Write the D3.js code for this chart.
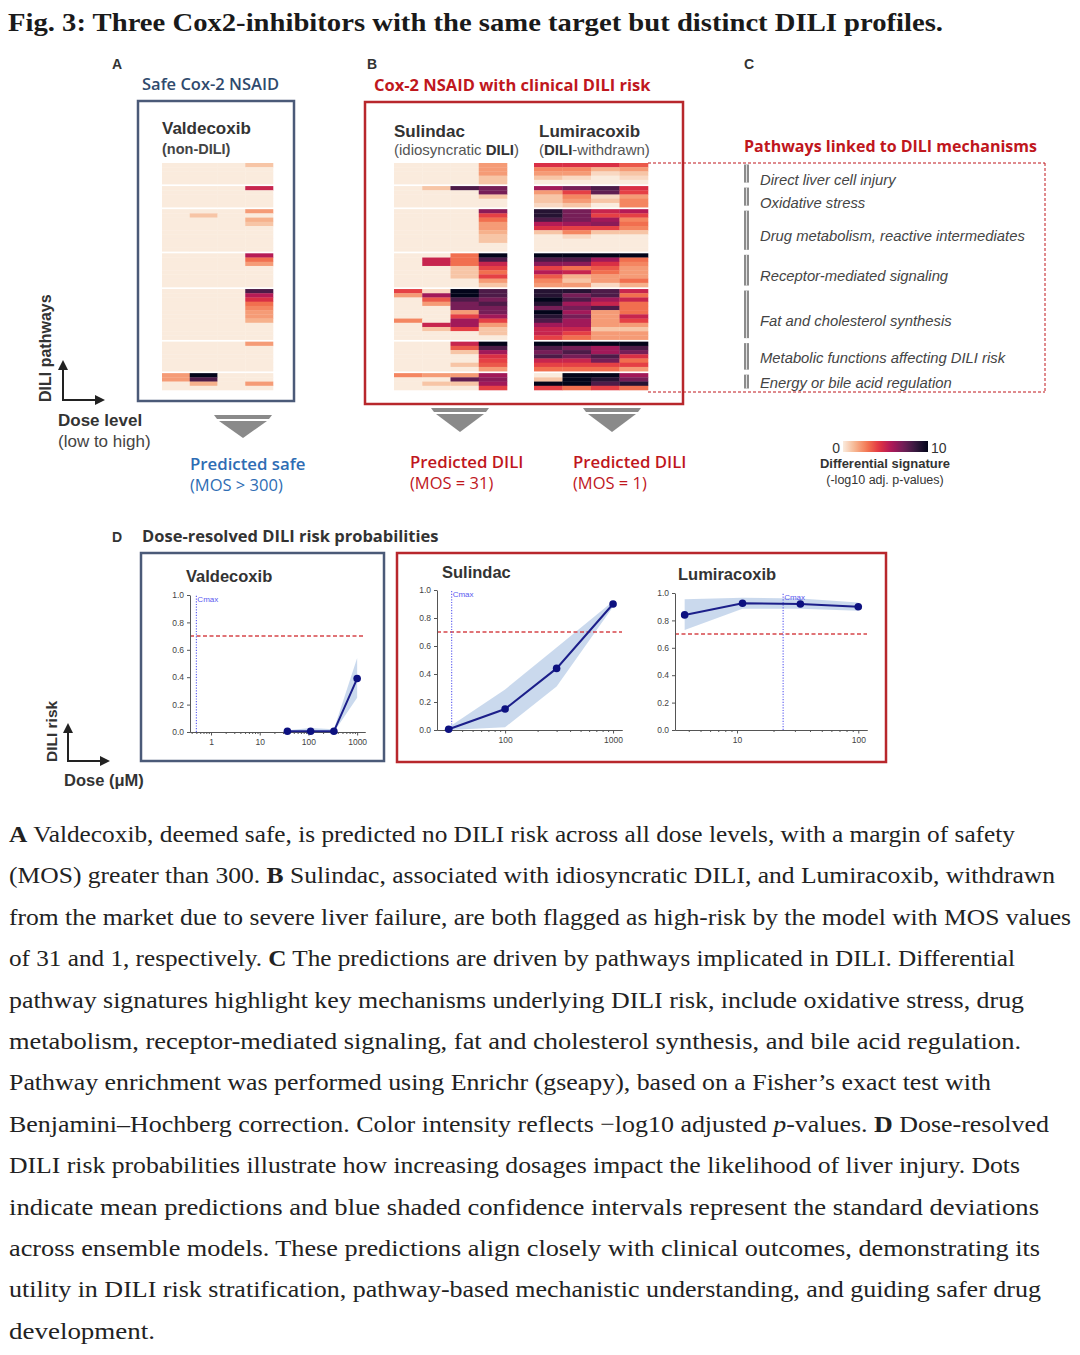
<!DOCTYPE html>
<html>
<head>
<meta charset="utf-8">
<script src="https://cdn.jsdelivr.net/npm/d3@7"></script>
<style>
body{margin:0;background:#fff}
svg text{font-family:"Liberation Sans",Arial,sans-serif}
svg text.serif{font-family:"Liberation Serif","Times New Roman",serif}
</style>
</head>
<body>
<svg id="fig" width="1080" height="1355"></svg>
<script>
// ---- heatmap data: -log10 adj. p, rows grouped by pathway, 4 dose levels (low->high)
var doseLevels = ["low", "mid-low", "mid-high", "high"];
var pathwayGroups = ["Direct liver cell injury", "Oxidative stress", "Drug metabolism, reactive intermediates",
  "Receptor-mediated signaling", "Fat and cholesterol synthesis", "Metabolic functions affecting DILI risk",
  "Energy or bile acid regulation"];

var valdecoxibSig = [
  [[0,0,0,1],[0,0,0,0],[0,0,0,0],[0,0,0,0],[0,0,0,0]],
  [[0,0,0,5],[0,0,0,0],[0,0,0,0],[0,0,0,0],[0,0,0,0]],
  [[0,0,0,2],[0,1,0,0],[0,0,0,1.5],[0,0,0,1],[0,0,0,0],[0,0,0,0],[0,0,0,0],[0,0,0,0],[0,0,0,0],[0,0,0,0]],
  [[0,0,0,5.5],[0,0,0,3],[0,0,0,2],[0,0,0,0],[0,0,0,0],[0,0,0,0],[0,0,0,0],[0,0,0,0]],
  [[0,0,0,8],[0,0,0,5.5],[0,0,0,4.5],[0,0,0,3],[0,0,0,2.5],[0,0,0,2],[0,0,0,2],[0,0,0,1.5],[0,0,0,0],[0,0,0,0],[0,0,0,0],[0,0,0,0]],
  [[0,0,0,2],[0,0,0,0],[0,0,0,0],[0,0,0,0],[0,0,0,0],[0,0,0,0],[0,0,0,0]],
  [[2,10,0,0],[2,8,0,0],[0,1.5,0,2],[0,0,0,0]]
];
var sulindacSig = [
  [[0,0,0,2],[0,0,0,2],[0,0,0,2],[0,0,0,1],[0,0,0,1]],
  [[0,1,8,7],[0,0,0,7],[0,0,0,1],[0,0,0,0],[0,0,0,0]],
  [[0,0,0,6.5],[0,0,0,4],[0,0,0,3],[0,0,0,2],[0,0,0,2],[0,0,0,1.5],[0,0,0,1],[0,0,0,1],[0,0,0,0],[0,0,0,0]],
  [[0,0,3,10],[0,5,3,8],[0,5,3,5],[0,0,1,4],[0,0,1,3],[0,0,1,4],[0,0,0,2],[0,0,0,1]],
  [[4,0.5,10,8],[2,6,10,8],[0,3.5,8,7],[0,2,7,8],[0,0,7,7],[0,0,2,7],[0,0,4,6],[2.5,0,6,4],[0,5,6,2],[0,1,4,1],[0,0,0,1],[0,0,0,0]],
  [[0,0,5,10],[0,0,3.5,8],[0,0,1,6],[0,0,0,4.5],[0,0,0,4],[0,0,1,3.5],[0,0,0,2]],
  [[2.5,2,2,6],[0,0,7.5,6.5],[0,1,1,6],[0,0,0,4]]
];
var lumiracoxibSig = [
  [[4.5,4.5,4.5,3.5],[2.5,2.5,1.5,2],[2,2,0.5,1],[1,0.5,0,0.5],[0,0,0,0]],
  [[6,7,8,4.5],[2,4,7.5,4],[1,2.5,0.5,2],[1,2,1,2.5],[0.5,1,0,2.5]],
  [[9,7,5,5.5],[9,7,4,4],[8,7,6,2.5],[5.5,6,6.5,3],[4.5,4,4,2.5],[1,2.5,1,1],[0,0.5,0,0],[0,0,0,0],[0,0,0,0],[0,0,0,0]],
  [[10,10,10,10],[8,8,6,3],[6.5,6.5,4.5,2.5],[4,3,3.5,2],[5.5,5,3,2],[3.5,1.5,2,2],[2.5,1,2,3],[2,2,0.5,1.5]],
  [[9,9,8,5],[9,7,8,3],[10,8,6,5],[9,6,5,3],[7,7,8,3],[10,6,2,3],[9,7,2,5],[8,6,2,4],[6,6,2,2],[5,5,1,1],[5,4,2,2],[4,3,2,2]],
  [[10,10,10,10],[8,7,6,8],[7,8,6,7],[8,7,8,4.5],[5,5,7,3],[4,4,4,4],[3,3,3,2]],
  [[0,10,10,6],[1,10,9,7],[10,10,8,9],[4,3,4,3]]
];
var colorStops = ["#faebdd", "#f6b48f", "#f37651", "#e13342", "#ad1759", "#701f57", "#35193e", "#03051a"];
var colorTicks = [0, 10];

// ---- dose-resolved DILI risk (mean, +/- sd band)
var valdecoxibDose = [37, 111, 333, 1000];
var valdecoxibRisk = [0.005, 0.005, 0.005, 0.39];
var valdecoxibLow = [0, 0, 0, 0.25];
var valdecoxibHigh = [0.012, 0.03, 0.02, 0.54];
var valdecoxibCmax = 0.5;

var sulindacDose = [30, 100, 300, 1000];
var sulindacRisk = [0.005, 0.15, 0.44, 0.90];
var sulindacLow = [0, 0.02, 0.31, 0.88];
var sulindacHigh = [0.02, 0.29, 0.59, 0.92];
var sulindacCmax = 32;

var lumiracoxibDose = [3.7, 11.1, 33.3, 100];
var lumiracoxibRisk = [0.84, 0.925, 0.92, 0.90];
var lumiracoxibLow = [0.73, 0.885, 0.885, 0.87];
var lumiracoxibHigh = [0.955, 0.965, 0.96, 0.93];
var lumiracoxibCmax = 24;

var riskTicks = [0, 0.2, 0.4, 0.6, 0.8, 1.0];
var riskThreshold = 0.7;

var captionLines = [
  [["A","b"],[" Valdecoxib, deemed safe, is predicted no DILI risk across all dose levels, with a margin of safety"]],
  [["(MOS) greater than 300. "],["B","b"],[" Sulindac, associated with idiosyncratic DILI, and Lumiracoxib, withdrawn"]],
  [["from the market due to severe liver failure, are both flagged as high-risk by the model with MOS values"]],
  [["of 31 and 1, respectively. "],["C","b"],[" The predictions are driven by pathways implicated in DILI. Differential"]],
  [["pathway signatures highlight key mechanisms underlying DILI risk, include oxidative stress, drug"]],
  [["metabolism, receptor-mediated signaling, fat and cholesterol synthesis, and bile acid regulation."]],
  [["Pathway enrichment was performed using Enrichr (gseapy), based on a Fisher\u2019s exact test with"]],
  [["Benjamini\u2013Hochberg correction. Color intensity reflects \u2212log10 adjusted "],["p","i"],["-values. "],["D","b"],[" Dose-resolved"]],
  [["DILI risk probabilities illustrate how increasing dosages impact the likelihood of liver injury. Dots"]],
  [["indicate mean predictions and blue shaded confidence intervals represent the standard deviations"]],
  [["across ensemble models. These predictions align closely with clinical outcomes, demonstrating its"]],
  [["utility in DILI risk stratification, pathway-based mechanistic understanding, and guiding safer drug"]],
  [["development."]]
];
var captionEnds = [1015, 1055, 1071, 1015, 1024, 1021, 991, 1049, 1020, 1039, 1040, 1041, 155];

var svg = d3.select("#fig");
var color = d3.scaleSequential(d3.piecewise(d3.interpolateRgb, colorStops)).domain([0, 10]);
var navy = "#4b5a78", red = "#b8272c";

// title
svg.append("text").attr("class", "serif").attr("x", 8).attr("y", 31)
  .attr("textLength", 935).attr("lengthAdjust", "spacingAndGlyphs")
  .style("font-weight", "bold").style("font-size", "26px").style("fill", "#1a1a1a")
  .text("Fig. 3: Three Cox2-inhibitors with the same target but distinct DILI profiles.");

function label(x, y, txt, size, opts) {
  opts = opts || {};
  var t = svg.append("text").attr("x", x).attr("y", y).text(txt)
    .style("font-size", size + "px").style("fill", opts.fill || "#333")
    .style("font-weight", opts.weight || "normal");
  if (opts.family) t.style("font-family", opts.family);
  if (opts.italic) t.style("font-style", "italic");
  if (opts.anchor) t.attr("text-anchor", opts.anchor);
  return t;
}

// panel letters and headers
label(112, 69, "A", 14, {weight: "bold"});
label(367, 69, "B", 14, {weight: "bold"});
label(744, 69, "C", 14, {weight: "bold"});
label(142, 90, "Safe Cox-2 NSAID", 16.5, {fill: "#2f4a6d", weight: 600, family: "'Open Sans'"});
label(374, 91, "Cox-2 NSAID with clinical DILI risk", 16.5, {fill: "#c0171d", weight: "bold", family: "'Open Sans'"});

// panel boxes
svg.append("rect").attr("x", 138).attr("y", 101).attr("width", 156).attr("height", 300)
  .attr("fill", "none").attr("stroke", navy).attr("stroke-width", 2.5);
svg.append("rect").attr("x", 365).attr("y", 102).attr("width", 318).attr("height", 302)
  .attr("fill", "none").attr("stroke", red).attr("stroke-width", 2.5);

// heatmap headers
label(162, 134, "Valdecoxib", 17, {weight: "bold"});
label(162, 154, "(non-DILI)", 14.5, {weight: "bold", fill: "#444"});
label(394, 137, "Sulindac", 17, {weight: "bold"});
var t1 = label(394, 155, "(idiosyncratic ", 15, {fill: "#555"});
t1.append("tspan").style("font-weight", "bold").style("fill", "#333").text("DILI");
t1.append("tspan").text(")");
label(539, 137, "Lumiracoxib", 17, {weight: "bold"});
var t2 = label(539, 155, "(", 15, {fill: "#555"});
t2.append("tspan").style("font-weight", "bold").style("fill", "#333").text("DILI");
t2.append("tspan").text("-withdrawn)");

// ---- heatmaps
var hmTop = 163, hmBottom = 390, groupGap = 2;
var nRows = d3.sum(valdecoxibSig, function(g) { return g.length; });
var yRow = d3.scaleLinear().domain([0, nRows]).range([hmTop, hmBottom - groupGap * (pathwayGroups.length - 1)]);

var groupExtent = [];
(function() {
  var r = 0;
  valdecoxibSig.forEach(function(g, gi) {
    groupExtent.push([yRow(r) + gi * groupGap, yRow(r + g.length) + gi * groupGap]);
    r += g.length;
  });
})();

function drawHeatmap(sig, x0, x1) {
  var x = d3.scaleBand().domain(doseLevels).range([x0, x1]);
  var cells = [], r = 0;
  sig.forEach(function(g, gi) {
    g.forEach(function(row) {
      row.forEach(function(v, ci) { cells.push({r: r, g: gi, c: doseLevels[ci], v: v}); });
      r++;
    });
  });
  svg.append("g").selectAll("rect").data(cells).enter().append("rect")
    .attr("x", function(d) { return x(d.c); })
    .attr("y", function(d) { return yRow(d.r) + d.g * groupGap; })
    .attr("width", x.bandwidth() + 0.3)
    .attr("height", yRow(1) - yRow(0) + 0.3)
    .attr("fill", function(d) { return color(d.v); });
}
drawHeatmap(valdecoxibSig, 162, 273);
drawHeatmap(sulindacSig, 394, 507);
drawHeatmap(lumiracoxibSig, 534, 648);

// ---- panel C: pathway legend
label(744, 152, "Pathways linked to DILI mechanisms", 16, {fill: "#c0171d", weight: "bold", family: "'Open Sans'"});
var dash = svg.append("g").attr("fill", "none").attr("stroke", "#c0171d").attr("stroke-width", 1).attr("stroke-dasharray", "3,2");
dash.append("line").attr("x1", 648).attr("x2", 1045).attr("y1", hmTop).attr("y2", hmTop);
dash.append("line").attr("x1", 648).attr("x2", 1045).attr("y1", hmBottom + 2).attr("y2", hmBottom + 2);
dash.append("line").attr("x1", 1045).attr("x2", 1045).attr("y1", hmTop).attr("y2", hmBottom + 2);

var lg = svg.append("g").selectAll("g").data(pathwayGroups).enter().append("g");
lg.append("rect").attr("x", 744).attr("width", 5)
  .attr("y", function(d, i) { return groupExtent[i][0] + 1.5; })
  .attr("height", function(d, i) { return groupExtent[i][1] - groupExtent[i][0] - 3; })
  .attr("fill", "#8c8c8c");
lg.append("rect").attr("x", 746).attr("width", 1)
  .attr("y", function(d, i) { return groupExtent[i][0] + 1.5; })
  .attr("height", function(d, i) { return groupExtent[i][1] - groupExtent[i][0] - 3; })
  .attr("fill", "#e0e0e0");
lg.append("text").attr("x", 760)
  .attr("y", function(d, i) { return (groupExtent[i][0] + groupExtent[i][1]) / 2 + (i < 5 ? 6 : 1); })
  .attr("dy", "0.35em")
  .style("font-size", "14.8px").style("font-style", "italic").style("fill", "#444")
  .text(function(d) { return d; });

// colour bar
var defs = svg.append("defs");
var grad = defs.append("linearGradient").attr("id", "cbar");
d3.range(0, 10.01, 0.5).forEach(function(v) {
  grad.append("stop").attr("offset", (v / 10 * 100) + "%").attr("stop-color", color(v));
});
var cbx = d3.scaleLinear().domain([0, 10]).range([843, 928]);
svg.append("rect").attr("x", cbx(0)).attr("y", 441).attr("width", cbx(10) - cbx(0)).attr("height", 11).attr("fill", "url(#cbar)");
label(cbx(colorTicks[0]) - 3, 453, colorTicks[0], 14, {anchor: "end"});
label(cbx(colorTicks[1]) + 3, 453, colorTicks[1], 14);
label(885, 468, "Differential signature", 13, {anchor: "middle", weight: "bold"});
label(885, 484, "(-log10 adj. p-values)", 12.5, {anchor: "middle"});

// axis hint arrows
defs.append("marker").attr("id", "arr").attr("viewBox", "0 0 10 10").attr("refX", 8).attr("refY", 5)
  .attr("markerWidth", 5).attr("markerHeight", 5).attr("orient", "auto")
  .append("path").attr("d", "M0,0L10,5L0,10z").attr("fill", "#222");
function cornerArrow(cx, cy, up, right) {
  svg.append("line").attr("x1", cx).attr("y1", cy).attr("x2", cx).attr("y2", cy - up)
    .attr("stroke", "#222").attr("stroke-width", 2).attr("marker-end", "url(#arr)");
  svg.append("line").attr("x1", cx - 1).attr("y1", cy).attr("x2", cx + right).attr("y2", cy)
    .attr("stroke", "#222").attr("stroke-width", 2).attr("marker-end", "url(#arr)");
}
cornerArrow(63, 400, 38, 40);
svg.append("text").attr("transform", "translate(51,402) rotate(-90)")
  .style("font-size", "16px").style("font-weight", "bold").style("fill", "#333").text("DILI pathways");
label(58, 426, "Dose level", 17, {weight: "bold"});
label(58, 447, "(low to high)", 17, {fill: "#444"});

// grey chevrons
function chevron(cx, top, w, h) {
  svg.append("path").attr("fill", "#8a8a8a")
    .attr("d", "M" + (cx - w / 2) + "," + top + "H" + (cx + w / 2) + "L" + (cx + w / 2 - 3) + "," + (top + 4) + "H" + (cx - w / 2 + 3) + "Z");
  svg.append("path").attr("fill", "#8a8a8a")
    .attr("d", "M" + (cx - w / 2 + 5) + "," + (top + 6) + "H" + (cx + w / 2 - 5) + "L" + cx + "," + (top + h) + "Z");
}
chevron(243, 415, 58, 23);
chevron(460, 408, 58, 24);
chevron(612, 408, 58, 24);

label(190, 470, "Predicted safe", 16.8, {fill: "#2e6db4", weight: 600, family: "'Open Sans'"});
label(190, 491, "(MOS > 300)", 16.5, {fill: "#2e6db4", family: "'Open Sans'"});
label(410, 468, "Predicted DILI", 16.8, {fill: "#c0171d", weight: 600, family: "'Open Sans'"});
label(410, 489, "(MOS = 31)", 16.5, {fill: "#c0171d", family: "'Open Sans'"});
label(573, 468, "Predicted DILI", 16.8, {fill: "#c0171d", weight: 600, family: "'Open Sans'"});
label(573, 489, "(MOS = 1)", 16.5, {fill: "#c0171d", family: "'Open Sans'"});

// ---- panel D
label(112, 542, "D", 14, {weight: "bold"});
label(142, 542, "Dose-resolved DILI risk probabilities", 16.5, {weight: "bold", family: "'Open Sans'"});
svg.append("rect").attr("x", 141).attr("y", 553).attr("width", 243).attr("height", 208)
  .attr("fill", "none").attr("stroke", navy).attr("stroke-width", 2.5);
svg.append("rect").attr("x", 397).attr("y", 553).attr("width", 489).attr("height", 209)
  .attr("fill", "none").attr("stroke", red).attr("stroke-width", 2.5);

cornerArrow(68, 761, 36, 40);
svg.append("text").attr("transform", "translate(57,762) rotate(-90)")
  .style("font-size", "15.5px").style("font-weight", "bold").style("fill", "#333").text("DILI risk");
label(64, 786, "Dose (\u03bcM)", 16.5, {weight: "bold"});

function drawRisk(cfg) {
  var x = d3.scaleLog().domain(cfg.xDomain).range(cfg.xRange);
  var y = d3.scaleLinear().domain([0, 1]).range(cfg.yRange);
  var g = svg.append("g");
  var idx = d3.range(cfg.dose.length);

  label(cfg.titleX, cfg.titleY, cfg.title, 16.5, {weight: "bold"});

  g.append("path").datum(idx).attr("fill", "#c4d5eb").attr("opacity", 0.9)
    .attr("d", d3.area().x(function(i) { return x(cfg.dose[i]); })
      .y0(function(i) { return y(cfg.low[i]); }).y1(function(i) { return y(cfg.high[i]); }));

  // threshold and Cmax
  g.append("line").attr("x1", cfg.xRange[0]).attr("x2", cfg.xRange[1])
    .attr("y1", y(riskThreshold)).attr("y2", y(riskThreshold))
    .attr("stroke", "#d6454a").attr("stroke-width", 1.5).attr("stroke-dasharray", "4,2.5");
  g.append("line").attr("x1", x(cfg.cmax)).attr("x2", x(cfg.cmax)).attr("y1", y(0)).attr("y2", y(1))
    .attr("stroke", "#5a5af0").attr("stroke-width", 1.1).attr("stroke-dasharray", "1.2,1.5");
  g.append("text").attr("x", x(cfg.cmax) + 1).attr("y", y(1) + 7).text("Cmax")
    .style("font-size", "8px").style("fill", "#5a5af0");

  // axes
  var ya = g.append("g").attr("transform", "translate(" + cfg.xRange[0] + ",0)")
    .call(d3.axisLeft(y).tickValues(riskTicks).tickFormat(d3.format(".1f")).tickSize(3).tickSizeOuter(0));
  var minor = x.ticks().filter(function(v) { return cfg.xTicks.indexOf(v) < 0; });
  var xm = g.append("g").attr("transform", "translate(0," + y(0) + ")")
    .call(d3.axisBottom(x).tickValues(minor).tickFormat("").tickSize(2).tickSizeOuter(0));
  var xa = g.append("g").attr("transform", "translate(0," + y(0) + ")")
    .call(d3.axisBottom(x).tickValues(cfg.xTicks).tickFormat(d3.format("d")).tickSize(3.5).tickSizeOuter(0));
  [ya, xm, xa].forEach(function(a) {
    a.selectAll("path,line").attr("stroke", "#555");
    a.selectAll("text").style("font-size", "8.5px").style("fill", "#444");
  });

  g.append("path").datum(idx).attr("fill", "none").attr("stroke", "#1c1f8a").attr("stroke-width", 2)
    .attr("d", d3.line().x(function(i) { return x(cfg.dose[i]); }).y(function(i) { return y(cfg.mean[i]); }));
  g.selectAll("circle").data(idx).enter().append("circle")
    .attr("cx", function(i) { return x(cfg.dose[i]); })
    .attr("cy", function(i) { return y(cfg.mean[i]); })
    .attr("r", 3.8).attr("fill", "#0d1180");
}

drawRisk({title: "Valdecoxib", titleX: 186, titleY: 582, xDomain: [0.37, 1450], xRange: [190, 365], yRange: [732, 595],
  xTicks: [1, 10, 100, 1000], dose: valdecoxibDose, mean: valdecoxibRisk, low: valdecoxibLow, high: valdecoxibHigh, cmax: valdecoxibCmax});
drawRisk({title: "Sulindac", titleX: 442, titleY: 578, xDomain: [23.4, 1210], xRange: [437, 622], yRange: [730, 590],
  xTicks: [100, 1000], dose: sulindacDose, mean: sulindacRisk, low: sulindacLow, high: sulindacHigh, cmax: sulindacCmax});
drawRisk({title: "Lumiracoxib", titleX: 678, titleY: 580, xDomain: [3.08, 118], xRange: [675, 867], yRange: [730, 593],
  xTicks: [10, 100], dose: lumiracoxibDose, mean: lumiracoxibRisk, low: lumiracoxibLow, high: lumiracoxibHigh, cmax: lumiracoxibCmax});

// ---- caption
var cap = svg.append("g");
captionLines.forEach(function(segs, i) {
  var t = cap.append("text").attr("class", "serif").attr("x", 9).attr("y", 842 + i * 41.4)
    .style("font-size", "24px").style("fill", "#222")
    .attr("textLength", captionEnds[i] - 9).attr("lengthAdjust", "spacingAndGlyphs");
  segs.forEach(function(s) {
    var sp = t.append("tspan").text(s[0]);
    if (s[1] === "b") sp.style("font-weight", "bold");
    if (s[1] === "i") sp.style("font-style", "italic");
  });
});
</script>
</body>
</html>
